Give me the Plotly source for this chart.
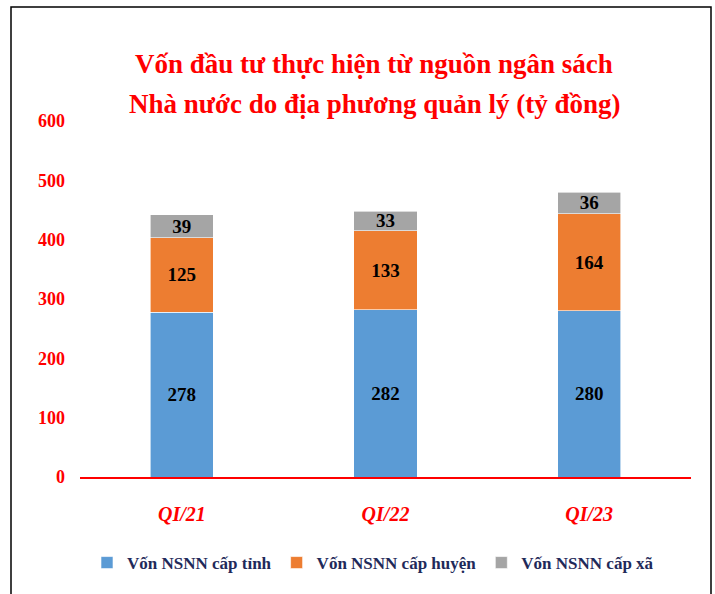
import plotly.graph_objects as go

categories = ["QI/21", "QI/22", "QI/23"]
series_names = ["Vốn NSNN cấp tỉnh", "Vốn NSNN cấp huyện", "Vốn NSNN cấp xã"]
tinh = [278, 282, 280]
huyen = [125, 133, 164]
xa = [39, 33, 36]
colors = ["#5B9BD5", "#ED7D31", "#A5A5A5"]
y_ticks = [0, 100, 200, 300, 400, 500, 600]
title_lines = ["Vốn đầu tư thực hiện từ nguồn ngân sách",
               "Nhà nước do địa phương quản lý (tỷ đồng)"]

FONT = "Liberation Serif"

fig = go.Figure()
for name, vals, col in zip(series_names, [tinh, huyen, xa], colors):
    fig.add_trace(go.Bar(
        x=categories, y=vals, name=name,
        marker=dict(color=col, line=dict(color="white", width=0.6)),
        text=[str(v) for v in vals],
        textposition="inside", insidetextanchor="middle", textangle=0,
        textfont=dict(family=FONT, size=19, color="black", weight="bold"),
    ))

PL, PR, PT, PB = 80, 691, 121, 477
def px(x):
    return (x - PL) / (PR - PL)
def py(y):
    return (PB - y) / (PB - PT)

fig.update_layout(
    barmode="stack",
    bargap=0.69,
    width=715, height=594,
    margin=dict(l=PL, r=715 - PR, t=PT, b=594 - PB, autoexpand=False),
    paper_bgcolor="white", plot_bgcolor="white",
    uniformtext=dict(minsize=19, mode="show"),
    legend=dict(
        orientation="h", x=px(373), xanchor="center", xref="paper",
        y=py(563), yanchor="middle",
        font=dict(family=FONT, size=17, color="#1F2A5A", weight="bold"),
        traceorder="normal", itemwidth=30,
    ),
    showlegend=True,
)
for line, yc in zip(title_lines, [64, 104]):
    fig.add_annotation(text=line, xref="paper", yref="paper", x=px(374), y=py(yc),
                       xanchor="center", yanchor="middle", showarrow=False,
                       font=dict(family=FONT, size=27, color="#FF0000", weight="bold"))
fig.update_xaxes(
    showline=True, linecolor="#FF0000", linewidth=2,
    ticks="", showgrid=False,
    tickfont=dict(family=FONT, size=20, color="#FF0000", weight="bold", style="italic"),
    ticklabelstandoff=18,
)
fig.update_yaxes(
    range=[0, 600], tickvals=y_ticks, showgrid=False, zeroline=False,
    showline=False, ticks="",
    tickfont=dict(family=FONT, size=18, color="#FF0000", weight="bold"),
    ticklabelstandoff=14,
)
# outer frame
fig.add_shape(type="rect", xref="paper", yref="paper",
              x0=px(11), x1=px(711), y0=py(620), y1=py(7),
              line=dict(color="black", width=1.5), fillcolor="rgba(0,0,0,0)", layer="below")

fig.write_html("out.html", config={"displayModeBar": False},
               post_script="document.body.style.margin='0';document.body.style.padding='0';")
